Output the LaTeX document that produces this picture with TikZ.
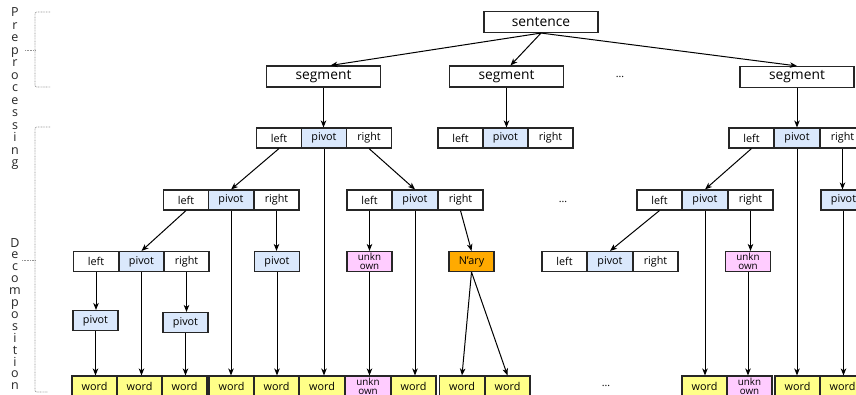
\documentclass[tikz,border=0pt]{standalone}
\usepackage{fontspec}
\setmainfont{Open Sans}
\usetikzlibrary{arrows.meta}
\definecolor{pivotblue}{HTML}{DAE8FC}
\definecolor{wordyellow}{HTML}{FFFF88}
\definecolor{unkpink}{HTML}{FFCCFF}
\definecolor{naryorange}{HTML}{FFAA00}
\begin{document}
\begin{tikzpicture}[x=1pt,y=-1pt,
  cell/.style={draw=black!85, line width=1.1pt, minimum width=45pt, minimum height=20pt,
    inner sep=0pt, fill=white, font=\fontsize{10.8}{12}\selectfont},
  pv/.style={cell, fill=pivotblue},
  wd/.style={cell, fill=wordyellow},
  uk/.style={cell, fill=unkpink, align=center, font=\fontsize{9.8}{9}\selectfont},
  nary/.style={cell, fill=naryorange},
  bigbox/.style={cell, minimum width=114pt, minimum height=21pt, font=\fontsize{13.8}{15}\selectfont},
  arr/.style={-{Stealth[length=7pt,width=5.5pt,inset=2pt]}, line width=1pt, black},
  brace/.style={draw=gray!85, dash pattern=on 0.8pt off 0.8pt, line width=0.8pt, rounded corners=2pt},
  vlabel/.style={align=center, inner sep=0pt, text=black!85},
  dots/.style={inner sep=0pt, font=\fontsize{10.5}{12}\selectfont}]
\path[use as bounding box, clip] (0,0) rectangle (856,394);

% side labels and their brackets
\node[vlabel, font=\fontsize{12.5}{12.5}\selectfont] (pre) at (15,89) {P\\r\\e\\p\\r\\o\\c\\e\\s\\s\\i\\n\\g};
\node[vlabel, font=\fontsize{12.5}{11.9}\selectfont] (dec) at (15,314) {D\\e\\c\\o\\m\\p\\o\\s\\i\\t\\i\\o\\n};
\draw[brace] (50,12) -- (35,12) -- (35,87) -- (50,87);
\draw[brace] (25,50) -- (35,50);
\draw[brace] (50,127) -- (35,127) -- (35,392) -- (48,392);
\draw[brace] (22,260) -- (35,260);

% sentence and segments
\node[bigbox] (sent) at (541,22) {sentence};
\node[bigbox] (seg1) at (323.5,76.5) {segment};
\node[bigbox] (seg2) at (506.5,76.5) {segment};
\node[bigbox] (seg3) at (797,77) {segment};
\node[dots] (dots1) at (620,77) {...};

% level 2 triples
\node[cell] (Al) at (279,138) {left};
\node[pv]   (Ap) at (324,138) {pivot};
\node[cell] (Ar) at (369,138) {right};
\node[cell] (Bl) at (460.5,138) {left};
\node[pv]   (Bp) at (505.5,138) {pivot};
\node[cell] (Br) at (550.5,138) {right};
\node[cell] (Cl) at (751.5,138) {left};
\node[pv]   (Cp) at (797,138) {pivot};
\node[cell] (Cr) at (842.5,138) {right};

% level 3
\node[cell] (Dl) at (186,200) {left};
\node[pv]   (Dp) at (231,200) {pivot};
\node[cell] (Dr) at (276.5,200) {right};
\node[cell] (El) at (369.5,200) {left};
\node[pv]   (Ep) at (415,200) {pivot};
\node[cell] (Er) at (460.5,200) {right};
\node[dots] (dots2) at (563,202) {...};
\node[cell] (Fl) at (659.5,200) {left};
\node[pv]   (Fp) at (705,200) {pivot};
\node[cell] (Fr) at (750.5,200) {right};
\node[pv]   (G)  at (843.5,200) {pivot};

% level 4
\node[cell] (Hl) at (96,261.5) {left};
\node[pv]   (Hp) at (141.5,261.5) {pivot};
\node[cell] (Hr) at (186.5,261.5) {right};
\node[pv]   (I)  at (277,261.5) {pivot};
\node[uk]   (J)  at (369.5,261.5) {unkn\\own};
\node[nary] (K)  at (471.5,261.5) {N’ary};
\node[cell] (Ll) at (564.5,261.5) {left};
\node[pv]   (Lp) at (610,261.5) {pivot};
\node[cell] (Lr) at (655.5,261.5) {right};
\node[uk]   (M)  at (748,261.5) {unkn\\own};

% level 5
\node[pv] (N) at (95.5,320.5) {pivot};
\node[pv] (O) at (185.5,322.5) {pivot};

% bottom row of words
\node[wd] (w1)  at (94.5,386) {word};
\node[wd] (w2)  at (139.5,386) {word};
\node[wd] (w3)  at (184.5,386) {word};
\node[wd] (w4)  at (231.5,386) {word};
\node[wd] (w5)  at (276.5,386) {word};
\node[wd] (w6)  at (322,386) {word};
\node[uk] (w7)  at (368,386) {unkn\\own};
\node[wd] (w8)  at (413.5,386) {word};
\node[wd] (w9)  at (462,386) {word};
\node[wd] (w10) at (507.5,386) {word};
\node[dots] (dots3) at (606,386) {...};
\node[wd] (w11) at (704.5,386) {word};
\node[uk] (w12) at (749.5,386) {unkn\\own};
\node[wd] (w13) at (797.5,386) {word};
\node[wd] (w14) at (842.5,386) {word};

% sentence to segments
\draw[arr] (sent.south) -- ([xshift=7pt]seg1.north);
\draw[arr] (sent.south) -- ([xshift=4pt]seg2.north);
\draw[arr] (sent.south) -- (seg3.north);
\draw[arr] (seg1.south) -- (seg1.south |- Ap.north);
\draw[arr] (seg2.south) -- (seg2.south |- Bp.north);
\draw[arr] (seg3.south) -- (seg3.south |- Cp.north);

% first segment
\draw[arr] (Al.south) -- (Dp.north);
\draw[arr] (Ap.south) -- (Ap.south |- w6.north);
\draw[arr] (Ar.south) -- (Ep.north);
\draw[arr] (Dl.south) -- (Hp.north);
\draw[arr] (Dp.south) -- (Dp.south |- w4.north);
\draw[arr] (Dr.south) -- (Dr.south |- I.north);
\draw[arr] (I.south) -- (I.south |- w5.north);
\draw[arr] (Hl.south) -- (Hl.south |- N.north);
\draw[arr] (N.south) -- (N.south |- w1.north);
\draw[arr] (Hp.south) -- (Hp.south |- w2.north);
\draw[arr] (Hr.south) -- (Hr.south |- O.north);
\draw[arr] (O.south) -- (O.south |- w3.north);
\draw[arr] (El.south) -- (El.south |- J.north);
\draw[arr] (J.south) -- (J.south |- w7.north);
\draw[arr] (Ep.south) -- (Ep.south |- w8.north);
\draw[arr] (Er.south) -- (K.north);
\draw[arr] (K.south) -- (w9.north);
\draw[arr] (K.south) -- (w10.north);

% last segment
\draw[arr] (Cl.south) -- (Fp.north);
\draw[arr] (Cp.south) -- (Cp.south |- w13.north);
\draw[arr] (Cr.south) -- (Cr.south |- G.north);
\draw[arr] (G.south) -- (G.south |- w14.north);
\draw[arr] (Fl.south) -- (Lp.north);
\draw[arr] (Fp.south) -- (Fp.south |- w11.north);
\draw[arr] (Fr.south) -- (Fr.south |- M.north);
\draw[arr] (M.south) -- (M.south |- w12.north);
\end{tikzpicture}
\end{document}
